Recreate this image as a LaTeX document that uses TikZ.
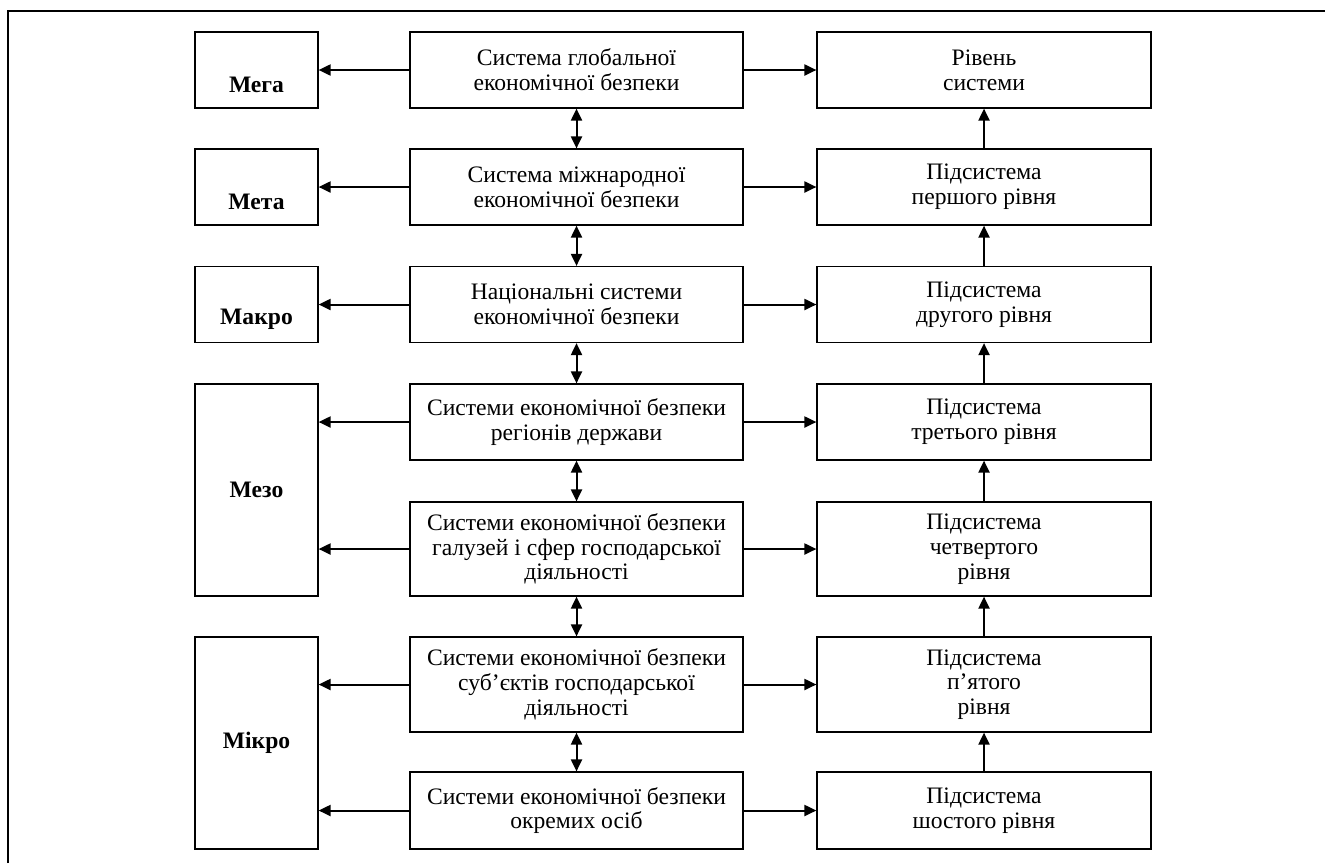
\documentclass[tikz,border=0pt]{standalone}
\usepackage{fontspec}
\setmainfont{Liberation Serif}
\usetikzlibrary{arrows.meta}

\tikzset{
  lvlbox/.style={draw, line width=0.6pt, minimum width=61.5pt, minimum height=38pt, inner sep=0pt},
  lvltext/.style={font=\fontsize{11.8}{12.4}\selectfont\bfseries},
  sysbox/.style={draw, line width=0.6pt, minimum width=166.5pt, minimum height=38pt, inner sep=0pt, align=center, font=\fontsize{11.8}{12.4}\selectfont},
  subbox/.style={draw, line width=0.6pt, minimum width=167pt, minimum height=38pt, inner sep=0pt, align=center, font=\fontsize{11.8}{12.4}\selectfont},
  link/.style={line width=1pt, -{Triangle[length=6pt,width=5.5pt]}},
  dlink/.style={line width=1pt, {Triangle[length=6pt,width=5.5pt]}-{Triangle[length=6pt,width=5.5pt]}}
}

\begin{document}
\begin{tikzpicture}[x=0.5pt, y=-0.5pt]
\useasboundingbox (0,0) rectangle (1325,863);
\draw[line width=1.2pt] (8,863) -- (8,11) -- (1325,11);

\node[lvlbox, label={[lvltext, yshift=-7.5pt]center:Мега}] (mega) at (256.5,70) {};
\node[lvlbox, label={[lvltext, yshift=-7.5pt]center:Мета}] (meta) at (256.5,187) {};
\node[lvlbox, label={[lvltext, yshift=-7.5pt]center:Макро}] (makro) at (256.5,304.5) {};
\node[lvlbox, minimum height=106pt, label={[lvltext]center:Мезо}] (mezo) at (256.5,490) {};
\node[lvlbox, minimum height=106pt, label={[lvltext]center:Мікро}] (mikro) at (256.5,743) {};

\node[sysbox] (s1) at (576.5,70) {Система глобальної\\економічної безпеки};
\node[sysbox] (s2) at (576.5,187) {Система міжнародної\\економічної безпеки};
\node[sysbox] (s3) at (576.5,304.5) {Національні системи\\економічної безпеки};
\node[sysbox] (s4) at (576.5,422) {Системи економічної безпеки\\регіонів держави};
\node[sysbox, minimum height=47pt] (s5) at (576.5,549) {Системи економічної безпеки\\галузей і сфер господарської\\діяльності};
\node[sysbox, minimum height=47.5pt] (s6) at (576.5,684.5) {Системи економічної безпеки\\суб’єктів господарської\\діяльності};
\node[sysbox, minimum height=38.5pt] (s7) at (576.5,810.5) {Системи економічної безпеки\\окремих осіб};

\node[subbox] (r1) at (984,70) {Рівень\\системи};
\node[subbox] (r2) at (984,187) {Підсистема\\першого рівня};
\node[subbox] (r3) at (984,304.5) {Підсистема\\другого рівня};
\node[subbox] (r4) at (984,422) {Підсистема\\третього рівня};
\node[subbox, minimum height=47pt] (r5) at (984,549) {Підсистема\\четвертого\\рівня};
\node[subbox, minimum height=47.5pt] (r6) at (984,684.5) {Підсистема\\п’ятого\\рівня};
\node[subbox, minimum height=38.5pt] (r7) at (984,810.5) {Підсистема\\шостого рівня};

\draw[link] (s1) -- (mega);
\draw[link] (s2) -- (meta);
\draw[link] (s3) -- (makro);
\draw[link] (s4.west) -- (s4.west -| mezo.east);
\draw[link] (s5.west) -- (s5.west -| mezo.east);
\draw[link] (s6.west) -- (s6.west -| mikro.east);
\draw[link] (s7.west) -- (s7.west -| mikro.east);

\foreach \i in {1,...,7}
  \draw[link] (s\i) -- (r\i);

\foreach \i/\j in {1/2,2/3,3/4,4/5,5/6,6/7}
  \draw[dlink] (s\i) -- (s\j);

\foreach \i/\j in {2/1,3/2,4/3,5/4,6/5,7/6}
  \draw[link] (r\i) -- (r\j);
\end{tikzpicture}
\end{document}
